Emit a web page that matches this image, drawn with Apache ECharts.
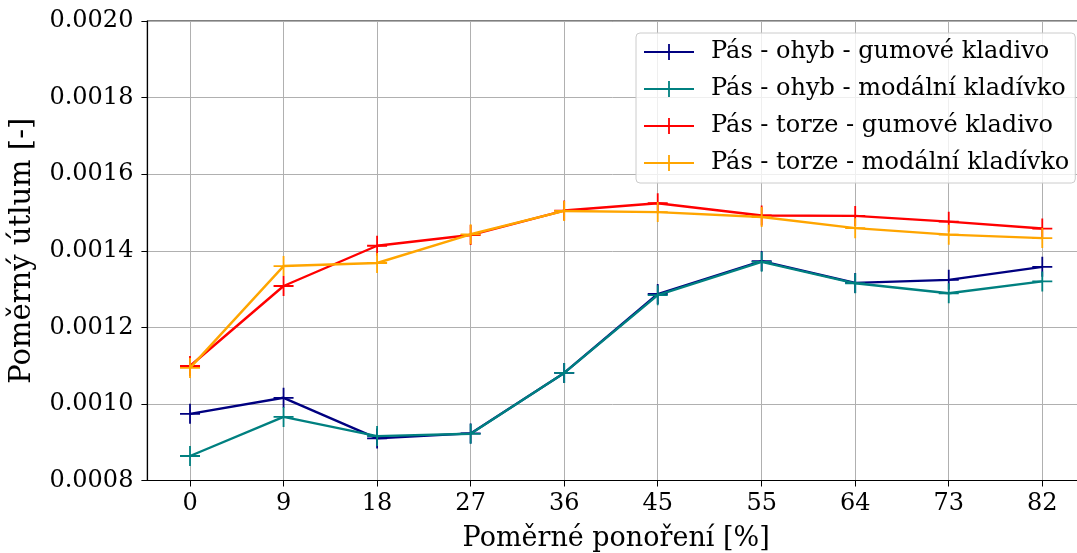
<!DOCTYPE html>
<html><head><meta charset="utf-8">
<script src="https://cdn.jsdelivr.net/npm/echarts@6/dist/echarts.min.js"></script>
<style>html,body{margin:0;padding:0;background:#fff}#c{width:1077px;height:553px}</style>
</head><body><div id="c"></div>
<script>
// ---- data ----
const xValues = [0, 9, 18, 27, 36, 45, 55, 64, 73, 82];
const xTickLabels = ['0', '9', '18', '27', '36', '45', '55', '64', '73', '82'];
const yTickLabels = ['0.0008', '0.0010', '0.0012', '0.0014', '0.0016', '0.0018', '0.0020'];
const seriesNames = [
  'Pás - ohyb - gumové kladivo',
  'Pás - ohyb - modální kladívko',
  'Pás - torze - gumové kladivo',
  'Pás - torze - modální kladívko'
];
const ohybGumove   = [0.000974, 0.001016, 0.000910, 0.000923, 0.001081, 0.001287, 0.001373, 0.001316, 0.001324, 0.001358];
const ohybModalni  = [0.000864, 0.000966, 0.000916, 0.000922, 0.001081, 0.001284, 0.001371, 0.001315, 0.001289, 0.001320];
const torzeGumove  = [0.001099, 0.001308, 0.001413, 0.001441, 0.001505, 0.001524, 0.001492, 0.001491, 0.001476, 0.001458];
const torzeModalni = [0.001094, 0.001360, 0.001368, 0.001443, 0.001504, 0.001501, 0.001488, 0.001459, 0.001442, 0.001433];
const seriesColors = ['#000080', '#008080', '#ff0000', '#ffa500'];

const FONT = 'DejaVu Serif';
const FS = 24;
const plusSymbol = 'path://M0,9.1h20v1.8h-20z M9.1,0h1.8v20h-1.8z';
const legendIcon = 'path://M0,7h50v2h-50z M24.1,0h1.8v16h-1.8z';

const allValues = [ohybGumove, ohybModalni, torzeGumove, torzeModalni];
const series = allValues.map((vals, i) => ({
  name: seriesNames[i],
  type: 'line',
  data: xValues.map((x, j) => [x, vals[j]]),
  color: seriesColors[i],
  lineStyle: { width: 2.4, color: seriesColors[i] },
  itemStyle: { color: seriesColors[i] },
  symbol: plusSymbol,
  symbolSize: 20,
  showSymbol: true,
  animation: false,
  z: 3 + i
}));

const chart = echarts.init(document.getElementById('c'), null, { renderer: 'canvas' });
chart.setOption({
  backgroundColor: '#ffffff',
  animation: false,
  textStyle: { fontFamily: FONT },
  grid: {
    left: 147.4, top: 21, width: 937.5, height: 459.5,
    containLabel: false,
    outerBoundsMode: 'none',
    show: true, borderColor: '#000', borderWidth: 1.2, backgroundColor: 'transparent'
  },
  legend: {
    orient: 'vertical',
    left: 636, top: 33,
    padding: [6, 6, 7, 8],
    itemWidth: 50, itemHeight: 16, itemGap: 11,
    backgroundColor: 'rgba(255,255,255,0.8)',
    borderColor: '#cccccc', borderWidth: 1, borderRadius: 4,
    textStyle: { fontFamily: FONT, fontSize: FS, color: '#000', lineHeight: 26, padding: [0, 0, 0, 12] },
    data: seriesNames.map(n => ({ name: n, icon: legendIcon })),
    z: 10
  },
  xAxis: {
    type: 'value',
    min: -4.1, max: 86.1,
    name: 'Poměrné ponoření [%]',
    nameLocation: 'middle',
    nameGap: 45,
    nameTextStyle: { fontFamily: FONT, fontSize: 27, color: '#000' },
    axisLine: { show: true, onZero: false, lineStyle: { color: '#000', width: 1.2 } },
    axisTick: { show: true, length: 6, lineStyle: { color: '#000' }, customValues: xValues },
    axisLabel: {
      fontFamily: FONT, fontSize: FS, color: '#000', margin: 11,
      customValues: xValues,
      formatter: v => xTickLabels[xValues.indexOf(v)]
    },
    splitLine: { show: true, lineStyle: { color: '#b0b0b0', width: 1 } }
  },
  yAxis: {
    type: 'value',
    min: 0.0008, max: 0.0020, interval: 0.0002,
    name: 'Poměrný útlum [-]',
    nameLocation: 'middle',
    nameGap: 110,
    nameTextStyle: { fontFamily: FONT, fontSize: 29, color: '#000' },
    axisLine: { show: true, onZero: false, lineStyle: { color: '#000', width: 1.2 } },
    axisTick: { show: true, length: 6, lineStyle: { color: '#000' } },
    axisLabel: {
      fontFamily: FONT, fontSize: FS, color: '#000', margin: 14,
      formatter: v => yTickLabels[Math.round((v - 0.0008) / 0.0002)]
    },
    splitLine: { show: true, lineStyle: { color: '#b0b0b0', width: 1 } }
  },
  series: series
});
</script>
</body></html>
